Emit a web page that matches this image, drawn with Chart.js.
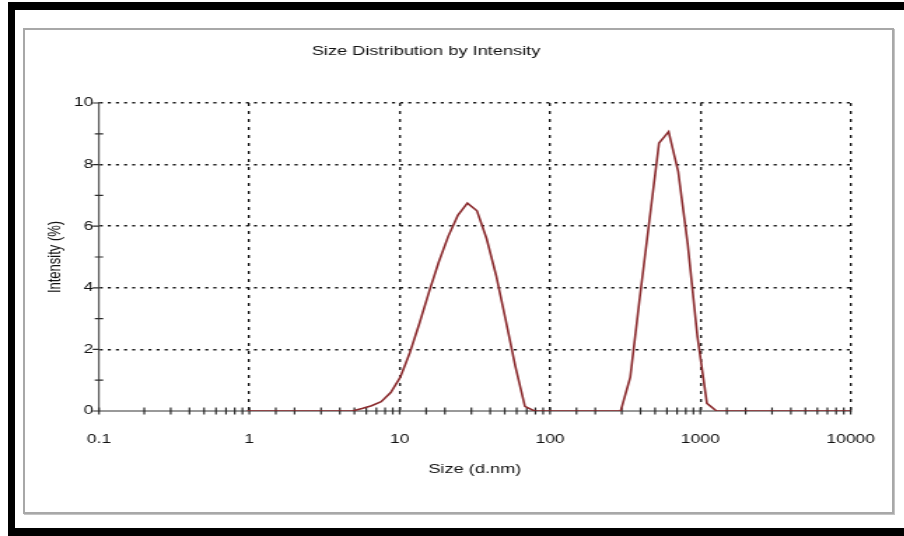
<!DOCTYPE html>
<html>
<head>
<meta charset="utf-8">
<script src="https://cdn.jsdelivr.net/npm/chart.js@4/dist/chart.umd.min.js"></script>
<style>
  html, body { margin: 0; padding: 0; background: #fff; }
  #page { position: relative; width: 904px; height: 536px; overflow: hidden; background: #fff; }
  .band { position: absolute; background: #000; }
  #panel {
    position: absolute; left: 23px; top: 28px; width: 871px; height: 486px;
    box-sizing: border-box; border: 2px solid #a8a8a8; background: #fff;
    box-shadow: 1px 1px 0 #c4c4c4;
  }
  /* the chart is laid out narrow and widened horizontally, like the exported report */
  #wrap { position: absolute; left: 0; top: 0; width: 646px; height: 536px;
          transform: scaleX(1.4); transform-origin: 0 0; }
  #chart { display: block; }
</style>
</head>
<body>
<div id="page">
  <div class="band" style="left:8px;top:2px;width:896px;height:8px"></div>
  <div class="band" style="left:8px;top:2px;width:7px;height:534px"></div>
  <div class="band" style="left:8px;top:528px;width:896px;height:8px"></div>
  <div id="panel"></div>
  <div id="wrap"><canvas id="chart" width="646" height="536"></canvas></div>
</div>
<script>
// Size bins (d.nm) and the intensity (%) measured in each bin
const sizes = [
  0.9649, 1.117, 1.294, 1.499, 1.736, 2.01, 2.328, 2.696, 3.122, 3.615,
  4.187, 4.849, 5.615, 6.503, 7.531, 8.721, 10.1, 11.7, 13.54, 15.69,
  18.17, 21.04, 24.36, 28.21, 32.67, 37.84, 43.82, 50.75, 58.77, 68.06,
  78.82, 91.28, 105.7, 122.4, 141.8, 164.2, 190.1, 220.2, 255.0, 295.3,
  342.0, 396.1, 458.7, 531.2, 615.1, 712.4, 825.0, 955.4, 1106, 1281,
  1484, 1718, 1990, 2305, 2669, 3091, 3580, 4145, 4801, 5560,
  6439, 7456, 8635, 10000
];
const intensity = [
  0, 0, 0, 0, 0, 0, 0, 0, 0, 0,
  0, 0, 0.08, 0.17, 0.3, 0.6, 1.1, 1.9, 2.85, 3.87,
  4.83, 5.67, 6.35, 6.75, 6.5, 5.6, 4.4, 2.95, 1.46, 0.15,
  0, 0, 0, 0, 0, 0, 0, 0, 0, 0,
  1.1, 3.7, 6.2, 8.7, 9.07, 7.77, 5.4, 2.43, 0.25, 0,
  0, 0, 0, 0, 0, 0, 0, 0, 0, 0,
  0, 0, 0, 0
];
const sizeTickLabels = ['0.1', '1', '10', '100', '1000', '10000'];
const intensityTickLabels = ['0', '2', '4', '6', '8', '10'];
const chartTitle = 'Size Distribution by Intensity';
const xTitle = 'Size (d.nm)';
const yTitle = 'Intensity (%)';

const FONT = '"Liberation Sans", Arial, sans-serif';
const TEXT = '#111111';
const isPow10 = v => Math.abs(Math.log10(v) - Math.round(Math.log10(v))) < 1e-9;

// small tick marks straddling both axes
const axisTickMarks = {
  id: 'axisTickMarks',
  beforeDatasetsDraw(chart) {
    const { ctx, chartArea, scales: { x, y } } = chart;
    ctx.save();
    ctx.strokeStyle = '#2a2a2a';
    ctx.lineWidth = 1.2;
    ctx.beginPath();
    x.ticks.forEach((t, i) => {
      const px = x.getPixelForTick(i);
      ctx.moveTo(px, chartArea.bottom - 3.5);
      ctx.lineTo(px, chartArea.bottom + 3.5);
    });
    y.ticks.forEach((t, i) => {
      const py = y.getPixelForTick(i);
      const major = Math.round(t.value) % 2 === 0;
      ctx.moveTo(chartArea.left - (major ? 4.5 : 3), py);
      ctx.lineTo(chartArea.left + (major ? 0 : 3), py);
    });
    ctx.stroke();
    ctx.restore();
  }
};

new Chart(document.getElementById('chart'), {
  type: 'line',
  data: {
    datasets: [{
      data: sizes.map((s, i) => ({ x: s, y: intensity[i] })),
      borderColor: '#8a2a2d',
      borderWidth: 1.6,
      pointRadius: 0,
      tension: 0,
      fill: false
    }]
  },
  options: {
    responsive: false,
    animation: false,
    devicePixelRatio: 1,
    layout: { padding: { left: 0, right: 37.4, top: 0, bottom: 0 } },
    plugins: {
      legend: { display: false },
      tooltip: { enabled: false },
      title: {
        display: true,
        text: chartTitle,
        color: TEXT,
        font: { family: FONT, size: 13, weight: 'normal', lineHeight: 1.2 },
        padding: { top: 44, bottom: 43.4 }
      }
    },
    scales: {
      x: {
        type: 'logarithmic',
        min: 0.1,
        max: 10000,
        afterFit(scale) { scale.height = 125; },
        grid: {
          color: c => (c.tick && c.tick.value > 0.5 && isPow10(c.tick.value)) ? '#1a1a1a' : 'rgba(0,0,0,0)',
          lineWidth: 1.4,
          drawTicks: false
        },
        border: { display: true, color: '#999999', width: 2, dash: [3, 5] },
        ticks: {
          autoSkip: false,
          maxRotation: 0,
          minRotation: 0,
          padding: 21,
          color: TEXT,
          font: { family: FONT, size: 12.5 },
          callback: v => isPow10(v) ? sizeTickLabels[Math.round(Math.log10(v)) + 1] : ''
        },
        title: {
          display: true,
          text: xTitle,
          color: TEXT,
          font: { family: FONT, size: 13, lineHeight: 1.2 },
          padding: { top: 0, bottom: 58.5 }
        }
      },
      y: {
        min: 0,
        max: 10,
        afterFit(scale) { scale.width = 70.7; },
        grid: {
          color: c => (c.tick && c.tick.value > 0 && Math.round(c.tick.value) % 2 === 0) ? '#1a1a1a' : 'rgba(0,0,0,0)',
          lineWidth: 1.6,
          drawTicks: false
        },
        border: { display: true, color: '#555555', width: 1.2, dash: [2.2, 3.6] },
        ticks: {
          stepSize: 1,
          autoSkip: false,
          padding: 4,
          color: TEXT,
          font: { family: FONT, size: 12.5 },
          callback: v => (Math.round(v) % 2 === 0) ? intensityTickLabels[Math.round(v) / 2] : ''
        },
        title: {
          display: true,
          text: yTitle,
          color: TEXT,
          font: { family: FONT, size: 13, lineHeight: 1.2 },
          padding: { top: 31.5, bottom: 0 }
        }
      }
    }
  },
  plugins: [axisTickMarks]
});
</script>
</body>
</html>
